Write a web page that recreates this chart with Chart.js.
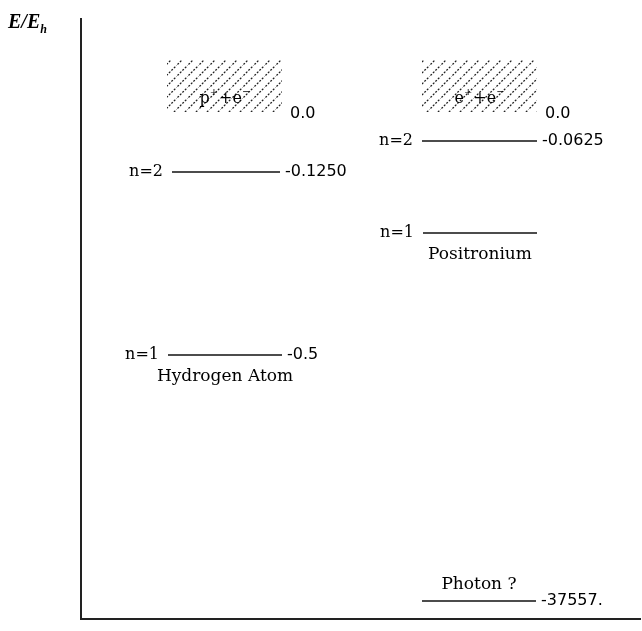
<!DOCTYPE html>
<html lang="en">
<head>
<meta charset="UTF-8">
<title>Energy levels: hydrogen, positronium, photon</title>
<script src="https://cdn.jsdelivr.net/npm/chart.js"></script>
<style>
  html, body { margin: 0; padding: 0; background: #fff; }
  #wrap { width: 642px; height: 631px; }
</style>
</head>
<body>
<div id="wrap"><canvas id="levels"></canvas></div>
<script>
// schematic diagram units (the picture is not drawn to energy scale)
const levelY      = [447, 264, 478, 386, 18];
const levelStart  = [91, 87, 341, 342, 341];
const levelEnd    = [199, 201, 456, 456, 455];
const leftLabels  = ['n=2', 'n=1', 'n=2', 'n=1', ''];
const rightLabels = ['-0.1250', '-0.5', '-0.0625', '', '-37557.'];
const underLabels = ['', 'Hydrogen Atom', '', 'Positronium', ''];
const overLabels  = ['', '', '', '', 'Photon ?'];

// hatched continua above the ionisation limit
const contParts  = [['p', 'e'], ['e', 'e']];
const contStart  = [86, 341];
const contEnd    = [201, 456];
const contBottom = [507, 507];
const contTop    = [559, 559];
const contEnergy = ['0.0', '0.0'];

const serif = '"DejaVu Serif", "Liberation Serif", serif';
const sans = '"DejaVu Sans", "Liberation Sans", sans-serif';

function hatchPattern() {
  const s = 11;
  const c = document.createElement('canvas');
  c.width = s; c.height = s;
  const g = c.getContext('2d');
  g.strokeStyle = '#222';
  g.lineWidth = 1.3;
  g.setLineDash([2, 1.5]);
  g.beginPath();
  g.moveTo(-1, s + 1); g.lineTo(s + 1, -1);
  g.stroke();
  return g.createPattern(c, 'repeat');
}
const pattern = hatchPattern();

const datasets = [];
contStart.forEach((x0, i) => {
  datasets.push({
    data: [{x: x0, y: contTop[i]}, {x: contEnd[i], y: contTop[i]}],
    borderWidth: 0,
    pointRadius: 0,
    backgroundColor: pattern,
    fill: {value: contBottom[i]}
  });
});
levelY.forEach((y, i) => {
  datasets.push({
    data: [{x: levelStart[i], y: y}, {x: levelEnd[i], y: y}],
    borderColor: '#111',
    borderWidth: 1.6,
    pointRadius: 0,
    fill: false
  });
});

const labelPlugin = {
  id: 'labels',
  afterDatasetsDraw(chart) {
    const {ctx, scales: {x, y}} = chart;
    ctx.save();
    ctx.fillStyle = '#000';
    ctx.textBaseline = 'middle';

    levelY.forEach((v, i) => {
      const py = y.getPixelForValue(v);
      const x0 = x.getPixelForValue(levelStart[i]);
      const x1 = x.getPixelForValue(levelEnd[i]);
      if (leftLabels[i]) {
        ctx.font = '16px ' + serif;
        ctx.textAlign = 'right';
        ctx.fillText(leftLabels[i], x0 - 9, py);
      }
      if (rightLabels[i]) {
        ctx.font = '16px ' + sans;
        ctx.textAlign = 'left';
        ctx.fillText(rightLabels[i], x1 + 5, py);
      }
      if (underLabels[i]) {
        ctx.font = '17px ' + serif;
        ctx.textAlign = 'center';
        ctx.fillText(underLabels[i], (x0 + x1) / 2, py + 22);
      }
      if (overLabels[i]) {
        ctx.font = '17px ' + serif;
        ctx.textAlign = 'center';
        ctx.fillText(overLabels[i], (x0 + x1) / 2, py - 16);
      }
    });

    contStart.forEach((v, i) => {
      const x0 = x.getPixelForValue(v);
      const x1 = x.getPixelForValue(contEnd[i]);
      const pb = y.getPixelForValue(contBottom[i]);
      // particle label: a+ + b- in the lower part of the box
      const by = pb - 13;
      ctx.textAlign = 'left';
      const a = contParts[i][0], b = contParts[i][1];
      let tx = (x0 + x1) / 2 - 25;
      ctx.font = '16px ' + serif;
      ctx.fillText(a, tx, by); tx += ctx.measureText(a).width;
      ctx.font = '10px ' + serif;
      ctx.fillText('+', tx, by - 7); tx += ctx.measureText('+').width + 1;
      ctx.font = '16px ' + serif;
      ctx.fillText('+', tx, by); tx += ctx.measureText('+').width;
      ctx.fillText(b, tx, by); tx += ctx.measureText(b).width;
      ctx.font = '10px ' + serif;
      ctx.fillText('\u2212', tx, by - 7);
      // energy of the limit
      ctx.font = '16px ' + sans;
      ctx.fillText(contEnergy[i], x1 + 8, pb + 2);
    });

    // axis title E/E_h
    ctx.textAlign = 'left';
    ctx.textBaseline = 'alphabetic';
    ctx.font = 'bold italic 20px "Liberation Serif", serif';
    ctx.fillText('E/E', 8, 28);
    const w = ctx.measureText('E/E').width;
    ctx.font = 'bold italic 12px "Liberation Serif", serif';
    ctx.fillText('h', 8 + w, 33);
    ctx.restore();
  }
};

new Chart(document.getElementById('levels'), {
  type: 'line',
  data: {datasets: datasets},
  options: {
    responsive: true,
    maintainAspectRatio: false,
    animation: false,
    layout: {padding: {left: 73, top: 19, right: 2, bottom: 4}},
    plugins: {legend: {display: false}, tooltip: {enabled: false}},
    scales: {
      x: {
        type: 'linear', min: 0, max: 559,
        ticks: {display: false},
        grid: {display: false},
        border: {display: true, color: '#222', width: 2}
      },
      y: {
        type: 'linear', min: 0, max: 600,
        ticks: {display: false},
        grid: {display: false},
        border: {display: true, color: '#222', width: 2}
      }
    }
  },
  plugins: [labelPlugin]
});
</script>
</body>
</html>
